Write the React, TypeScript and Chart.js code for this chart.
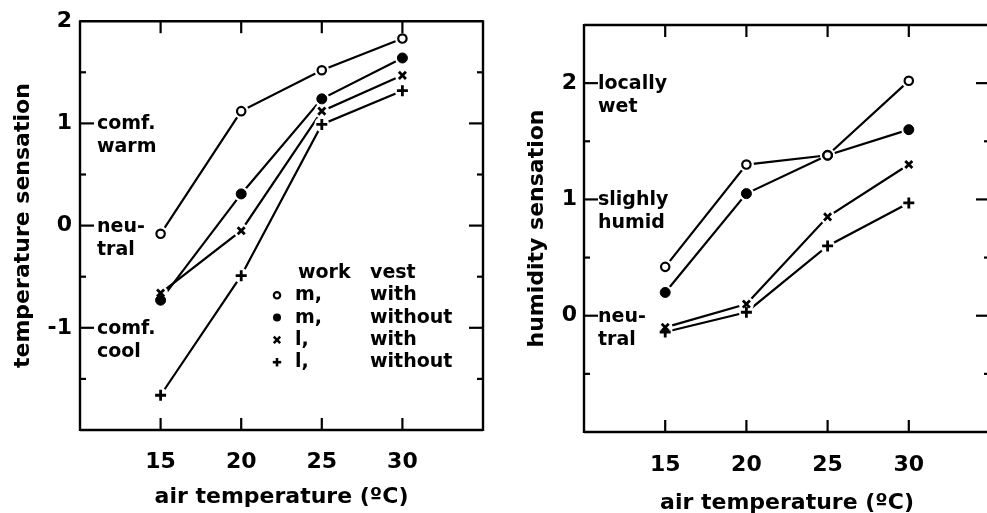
import React, { useEffect, useRef } from 'react';
import { Chart, registerables } from 'chart.js';

Chart.register(...registerables);

// ---------- data ----------
const airTemps = [15, 20, 25, 30];

// temperature sensation (left panel)
const tempMWith = [-0.08, 1.12, 1.52, 1.83];
const tempMWithout = [-0.73, 0.31, 1.24, 1.64];
const tempLWith = [-0.66, -0.05, 1.12, 1.47];
const tempLWithout = [-1.66, -0.49, 0.99, 1.32];

// humidity sensation (right panel)
const humMWith = [0.42, 1.3, 1.38, 2.02];
const humMWithout = [0.2, 1.05, 1.38, 1.6];
const humLWith = [-0.1, 0.1, 0.85, 1.3];
const humLWithout = [-0.14, 0.03, 0.6, 0.97];

const xTickValues = [15, 20, 25, 30];
const tempTickLabels = [2, 1, 0, -1];
const humTickLabels = [2, 1, 0];

const tempAnnotValues = [1, 0, -1];
const tempAnnotLines = [['comf.', 'warm'], ['neu-', 'tral'], ['comf.', 'cool']];
const humAnnotValues = [2, 1, 0];
const humAnnotLines = [['locally', 'wet'], ['slighly', 'humid'], ['neu-', 'tral']];

const legendHeader = ['work', 'vest'];
const legendWork = ['m,', 'm,', 'l,', 'l,'];
const legendVest = ['with', 'without', 'with', 'without'];

const xTitle = 'air temperature (ºC)';
const tempTitle = 'temperature sensation';
const humTitle = 'humidity sensation';

// ---------- styles ----------
const FONT = '"DejaVu Sans"';
const markerStyles = [
  { pointStyle: 'circle', radius: 4.2, bg: '#fff', bw: 2.2 },
  { pointStyle: 'circle', radius: 5, bg: '#000', bw: 1 },
  { pointStyle: 'crossRot', radius: 5, bg: '#000', bw: 2.8 },
  { pointStyle: 'cross', radius: 5.5, bg: '#000', bw: 2.8 },
];

function buildDatasets(series: number[][]) {
  const ds: any[] = [];
  series.forEach((vals, i) => {
    const data = airTemps.map((x, j) => ({ x, y: vals[j] }));
    const st = markerStyles[i];
    ds.push({
      data,
      showLine: true,
      borderColor: '#000',
      borderWidth: 2.2,
      pointRadius: 0,
      order: 3,
    });
    ds.push({
      data,
      showLine: false,
      pointRadius: 7.5,
      pointBackgroundColor: '#fff',
      pointBorderColor: '#fff',
      pointBorderWidth: 0,
      order: 2,
    });
    ds.push({
      data,
      showLine: false,
      pointStyle: st.pointStyle,
      pointRadius: st.radius,
      pointBackgroundColor: st.bg,
      pointBorderColor: '#000',
      pointBorderWidth: st.bw,
      order: 1,
    });
  });
  return ds;
}

function line(ctx: CanvasRenderingContext2D, x1: number, y1: number, x2: number, y2: number) {
  ctx.beginPath();
  ctx.moveTo(x1, y1);
  ctx.lineTo(x2, y2);
  ctx.stroke();
}

function frameTicksPlugin(drawRight: boolean) {
  return {
    id: 'frameTicks',
    afterDatasetsDraw(chart: any) {
      const { ctx, chartArea: a, scales } = chart;
      const xs = scales.x;
      const ys = scales.y;
      ctx.save();
      ctx.strokeStyle = '#000';
      ctx.lineWidth = 2.4;
      line(ctx, a.left, a.top, a.right, a.top);
      line(ctx, a.left, a.bottom, a.right, a.bottom);
      line(ctx, a.left, a.top - 1, a.left, a.bottom + 1);
      if (drawRight) line(ctx, a.right, a.top - 1, a.right, a.bottom + 1);
      ctx.lineWidth = 2.2;
      for (const v of xTickValues) {
        const px = xs.getPixelForValue(v);
        line(ctx, px, a.top, px, a.top + 12);
        line(ctx, px, a.bottom, px, a.bottom - 12);
      }
      ys.ticks.forEach((t: any) => {
        const v = t.value;
        if (v <= ys.min || v >= ys.max) return;
        const py = ys.getPixelForValue(v);
        const major = Math.abs(v - Math.round(v)) < 1e-6;
        const len = major ? 14 : 6;
        line(ctx, a.left, py, a.left + len, py);
        line(ctx, a.right, py, a.right - len, py);
      });
      ctx.restore();
    },
  };
}

function annotPlugin(values: number[], lines: string[][], offset: number) {
  return {
    id: 'annot',
    afterDatasetsDraw(chart: any) {
      const { ctx, chartArea: a, scales } = chart;
      ctx.save();
      ctx.fillStyle = '#000';
      ctx.font = `bold 19px ${FONT}`;
      ctx.textAlign = 'left';
      ctx.textBaseline = 'middle';
      values.forEach((v, i) => {
        const py = scales.y.getPixelForValue(v);
        lines[i].forEach((txt, k) => {
          ctx.fillText(txt, a.left + offset, py + 1 + k * 23);
        });
      });
      ctx.restore();
    },
  };
}

const legendPlugin = {
  id: 'legendTable',
  afterDatasetsDraw(chart: any) {
    const { ctx } = chart;
    ctx.save();
    ctx.fillStyle = '#000';
    ctx.strokeStyle = '#000';
    ctx.font = `bold 19px ${FONT}`;
    ctx.textAlign = 'left';
    ctx.textBaseline = 'middle';
    const colMarker = 277;
    const colWork = 295;
    const colVest = 370;
    const top = 273;
    const step = 22.3;
    ctx.fillText(legendHeader[0], colWork + 3, top);
    ctx.fillText(legendHeader[1], colVest, top);
    legendWork.forEach((w, i) => {
      const y = top + step * (i + 1);
      ctx.fillText(w, colWork, y);
      ctx.fillText(legendVest[i], colVest, y);
      ctx.lineWidth = 2.2;
      if (i === 0) {
        ctx.beginPath();
        ctx.arc(colMarker, y, 3.2, 0, Math.PI * 2);
        ctx.stroke();
      } else if (i === 1) {
        ctx.beginPath();
        ctx.arc(colMarker, y, 4, 0, Math.PI * 2);
        ctx.fill();
      } else if (i === 2) {
        const r = 3.2;
        ctx.lineWidth = 2.5;
        line(ctx, colMarker - r, y - r, colMarker + r, y + r);
        line(ctx, colMarker - r, y + r, colMarker + r, y - r);
      } else {
        const r = 4.2;
        ctx.lineWidth = 2.6;
        line(ctx, colMarker - r, y, colMarker + r, y);
        line(ctx, colMarker, y - r, colMarker, y + r);
      }
    });
    ctx.restore();
  },
};

function makeConfig(opts: {
  series: number[][];
  yMin: number;
  yMax: number;
  yLabels: number[];
  yTitle: string;
  yTitlePad: number;
  yWidth: number;
  yTickPad: number;
  xHeight: number;
  xTickPad: number;
  xTitleLineHeight: number;
  xTitlePadBottom: number;
  padTop: number;
  padRight: number;
  plugins: any[];
}) {
  return {
    type: 'scatter' as const,
    data: { datasets: buildDatasets(opts.series) },
    options: {
      responsive: false,
      animation: false as const,
      events: [] as any[],
      layout: { padding: { top: opts.padTop, right: opts.padRight, left: 0, bottom: 0 } },
      plugins: { legend: { display: false }, tooltip: { enabled: false } },
      scales: {
        x: {
          type: 'linear' as const,
          min: 10,
          max: 35,
          grid: { display: false, drawTicks: false },
          border: { display: false },
          ticks: {
            stepSize: 5,
            padding: opts.xTickPad,
            color: '#000',
            font: { family: FONT, size: 22, weight: 'bold' as const },
            callback: (v: any) => (xTickValues.includes(Number(v)) ? String(v) : ''),
          },
          title: {
            display: true,
            text: xTitle,
            color: '#000',
            font: { family: FONT, size: 22, weight: 'bold' as const, lineHeight: opts.xTitleLineHeight },
            padding: { top: 0, bottom: opts.xTitlePadBottom },
          },
          afterFit: (s: any) => {
            s.height = opts.xHeight;
            s.paddingLeft = 0;
            s.paddingRight = 0;
          },
        },
        y: {
          type: 'linear' as const,
          min: opts.yMin,
          max: opts.yMax,
          grid: { display: false, drawTicks: false },
          border: { display: false },
          ticks: {
            stepSize: 0.5,
            padding: opts.yTickPad,
            color: '#000',
            font: { family: FONT, size: 22, weight: 'bold' as const },
            callback: (v: any) => {
              const n = Number(v);
              return opts.yLabels.some((l) => Math.abs(l - n) < 1e-6) ? String(Math.round(n)) : '';
            },
          },
          title: {
            display: true,
            text: opts.yTitle,
            color: '#000',
            font: { family: FONT, size: 22, weight: 'bold' as const },
            padding: { top: opts.yTitlePad, bottom: 0 },
          },
          afterFit: (s: any) => {
            s.width = opts.yWidth;
          },
        },
      },
    },
    plugins: opts.plugins,
  };
}

export default function App() {
  const leftRef = useRef<HTMLCanvasElement>(null);
  const rightRef = useRef<HTMLCanvasElement>(null);

  useEffect(() => {
    const left = new Chart(
      leftRef.current!,
      makeConfig({
        series: [tempMWith, tempMWithout, tempLWith, tempLWithout],
        yMin: -2,
        yMax: 2,
        yLabels: tempTickLabels,
        yTitle: tempTitle,
        yTitlePad: 10,
        yWidth: 80,
        yTickPad: 8,
        xHeight: 83,
        xTickPad: 19,
        xTitleLineHeight: 1.2,
        xTitlePadBottom: 3,
        padTop: 20,
        padRight: 17,
        plugins: [frameTicksPlugin(true), annotPlugin(tempAnnotValues, tempAnnotLines, 17), legendPlugin],
      }) as any
    );
    const right = new Chart(
      rightRef.current!,
      makeConfig({
        series: [humMWith, humMWithout, humLWith, humLWithout],
        yMin: -1,
        yMax: 2.5,
        yLabels: humTickLabels,
        yTitle: humTitle,
        yTitlePad: 24,
        yWidth: 84,
        yTickPad: 7,
        xHeight: 81,
        xTickPad: 20,
        xTitleLineHeight: 0.9,
        xTitlePadBottom: 0,
        padTop: 25,
        padRight: 10,
        plugins: [frameTicksPlugin(true), annotPlugin(humAnnotValues, humAnnotLines, 14)],
      }) as any
    );
    return () => {
      left.destroy();
      right.destroy();
    };
  }, []);

  return (
    <div
      style={{
        position: 'fixed',
        left: 0,
        top: 0,
        width: 987,
        height: 513,
        overflow: 'hidden',
        background: '#fff',
      }}
    >
      <canvas ref={leftRef} width={500} height={513} style={{ position: 'absolute', left: 0, top: 0 }} />
      <canvas ref={rightRef} width={500} height={513} style={{ position: 'absolute', left: 500, top: 0 }} />
    </div>
  );
}
